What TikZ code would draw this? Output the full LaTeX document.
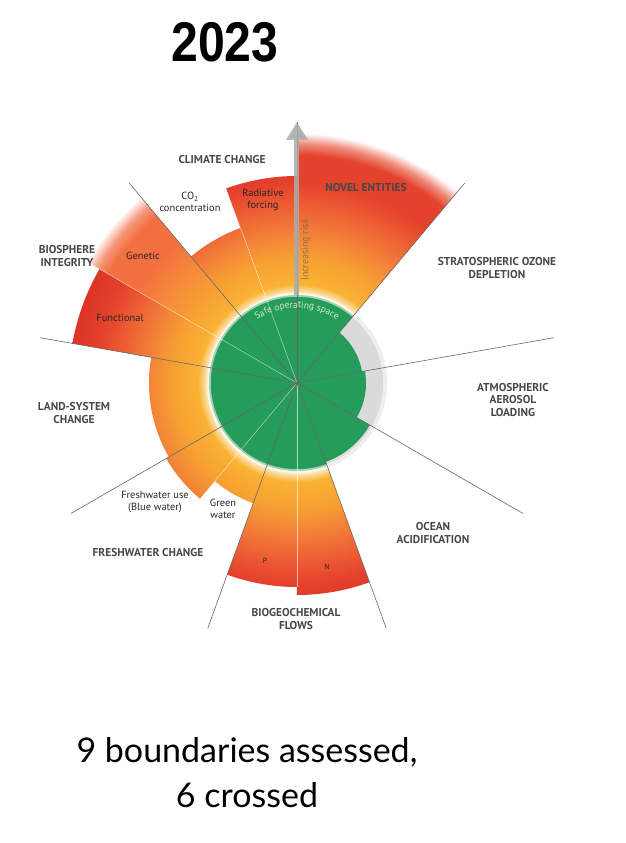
\documentclass[tikz,border=0pt]{standalone}
\usepackage{fontspec}
\usepackage{graphicx}
\setmainfont{PT Sans}
\newfontfamily\titlefont{Liberation Sans}
\newfontfamily\notefont{Lato}
\usetikzlibrary{arrows.meta,decorations.text}

\definecolor{safegreen}{RGB}{38,156,90}
\definecolor{safetext}{RGB}{205,235,195}
\definecolor{unknowngray}{RGB}{218,218,218}
\definecolor{glow}{RGB}{253,240,208}
\definecolor{riskA}{RGB}{249,178,51}
\definecolor{riskB}{RGB}{247,160,50}
\definecolor{riskC}{RGB}{243,128,56}
\definecolor{riskD}{RGB}{238,96,52}
\definecolor{riskE}{RGB}{228,66,44}
\definecolor{riskF}{RGB}{219,50,38}
\definecolor{paleC}{RGB}{244,138,58}
\definecolor{paleD}{RGB}{243,112,64}
\definecolor{paleE}{RGB}{245,150,122}
\definecolor{fadeE}{RGB}{238,138,120}
\definecolor{riskword}{RGB}{130,100,80}

% 25bp = radius 250 of the shaded disc
\pgfdeclareradialshading{risk}{\pgfpointorigin}{color(0bp)=(riskA); color(8.9bp)=(glow);
  color(9.9bp)=(riskA); color(12.5bp)=(riskB); color(15bp)=(riskC); color(17.5bp)=(riskD);
  color(20bp)=(riskE); color(23bp)=(riskF); color(50bp)=(riskF)}
\pgfdeclareradialshading{riskfade}{\pgfpointorigin}{color(0bp)=(riskA); color(8.9bp)=(glow);
  color(9.9bp)=(riskA); color(12.5bp)=(riskB); color(15bp)=(riskC); color(17.5bp)=(riskD);
  color(20bp)=(riskE); color(22.8bp)=(riskE); color(23.9bp)=(fadeE); color(25bp)=(white); color(50bp)=(white)}
\pgfdeclareradialshading{riskpale}{\pgfpointorigin}{color(0bp)=(riskA); color(8.9bp)=(glow);
  color(9.9bp)=(riskA); color(12.5bp)=(riskB); color(15.5bp)=(paleC); color(18.5bp)=(paleD);
  color(21.8bp)=(paleD); color(23bp)=(paleE); color(24.3bp)=(white); color(50bp)=(white)}

\tikzset{
  zone/.style={font=\bfseries\fontsize{11.4}{12.8}\selectfont, text=black!72, align=center, inner sep=0pt},
  subzone/.style={font=\fontsize{10.4}{11.8}\selectfont, text=black!85, align=center, inner sep=0pt},
  divider/.style={black!60, line width=0.6pt},
  subdivider/.style={white, opacity=0.6, line width=0.5pt},
  riskarrow/.style={-{Triangle[width=21pt,length=18pt]}, draw=gray!65, line width=5pt, opacity=0.85},
}

\begin{document}
\begin{tikzpicture}[x=1pt,y=1pt]
\useasboundingbox (-297,-460) rectangle (329,383);
\coordinate (O) at (0,0);
\pgfmathsetmacro{\rsafe}{88}
\pgfmathsetmacro{\rline}{261}

% boundary not crossed: grey rim
\fill[unknowngray] (O) circle[radius=90];

% transgressed wedges: angle from / angle to / radius / shading
\foreach \a/\b/\r/\sh in {90/110/207/risk, 110/130/165/risk, 130/150/245/riskpale,
  150/170/228/risk, 170/210/148/risk, 210/230/151/risk, 230/250/128/risk,
  250/270/204/risk, 270/290/212/risk, 50/90/252/riskfade}{
  \begin{scope}
    \clip (O) -- (\a:\r) arc[start angle=\a, end angle=\b, radius=\r] -- cycle;
    \shade[shading=\sh] (O) circle[radius=250];
  \end{scope}
}

% safe operating space
\fill[safegreen] (O) -- (50:\rsafe) arc[start angle=50, end angle=290, radius=\rsafe] -- cycle;
\fill[safegreen] (O) -- (290:84) arc[start angle=290, end angle=330, radius=84] -- cycle;
\fill[safegreen] (O) -- (330:69) arc[start angle=330, end angle=370, radius=69] -- cycle;
\fill[safegreen] (O) -- (10:66) arc[start angle=10, end angle=50, radius=66] -- cycle;
\draw[white, opacity=0.55, line width=3.5pt] (O) circle[radius=\rsafe];
\draw[white, dotted, line width=0.9pt] (O) circle[radius=90];
\path[decorate, decoration={text along path, text align=center,
  text={|\fontsize{9.5}{10}\selectfont\color{safetext}|Safe operating space}}]
  (128:75) arc[start angle=128, end angle=52, radius=75];

% sub-boundaries and boundaries
\foreach \a/\r in {110/165, 150/228, 230/128, 270/204}
  \draw[subdivider] (O) -- (\a:\r);
\foreach \a in {10,50,...,330}
  \draw[divider] (O) -- (\a:\rline);
\draw[riskarrow] (90:\rsafe) -- (90:\rline);
\node[rotate=90, font=\fontsize{10}{10}\selectfont, text=riskword, opacity=0.8] (risk) at (9,133) {Increasing risk};

% labels
\node[zone] (climate) at (-75,223) {CLIMATE CHANGE};
\node[subzone] (co2) at (-107,181) {CO\textsubscript{2}\\concentration};
\node[subzone] (radiative) at (-34,183) {Radiative\\forcing};
\node[zone] (biosphere) at (-230,127) {BIOSPHERE\\INTEGRITY};
\node[subzone] (genetic) at (-154,127) {Genetic};
\node[subzone] (functional) at (-177,65) {Functional};
\node[zone] (land) at (-223,-30) {LAND-SYSTEM\\CHANGE};
\node[subzone] (bluewater) at (-142,-119) {Freshwater use\\(Blue water)};
\node[subzone] (greenwater) at (-74,-126) {Green\\water};
\node[zone] (freshwater) at (-149,-170) {FRESHWATER CHANGE};
\node[subzone, font=\fontsize{7.5}{8}\selectfont] (phos) at (-32,-178) {P};
\node[subzone, font=\fontsize{7.5}{8}\selectfont] (nitro) at (30,-184) {N};
\node[zone] (biogeo) at (-1,-236) {BIOGEOCHEMICAL\\FLOWS};
\node[zone] (ocean) at (136,-150) {OCEAN\\ACIDIFICATION};
\node[zone] (aerosol) at (216,-17) {ATMOSPHERIC\\AEROSOL\\LOADING};
\node[zone] (ozone) at (200,115) {STRATOSPHERIC OZONE\\DEPLETION};
\node[zone] (novel) at (69,195) {NOVEL ENTITIES};

\node (title) at (-72,341) {\scalebox{0.86}[1]{\titlefont\bfseries\fontsize{56}{56}\selectfont 2023}};
\node[font=\notefont\fontsize{34}{45}\selectfont, align=center] (summary) at (-50,-390)
  {9 boundaries assessed,\\6 crossed};
\end{tikzpicture}
\end{document}
